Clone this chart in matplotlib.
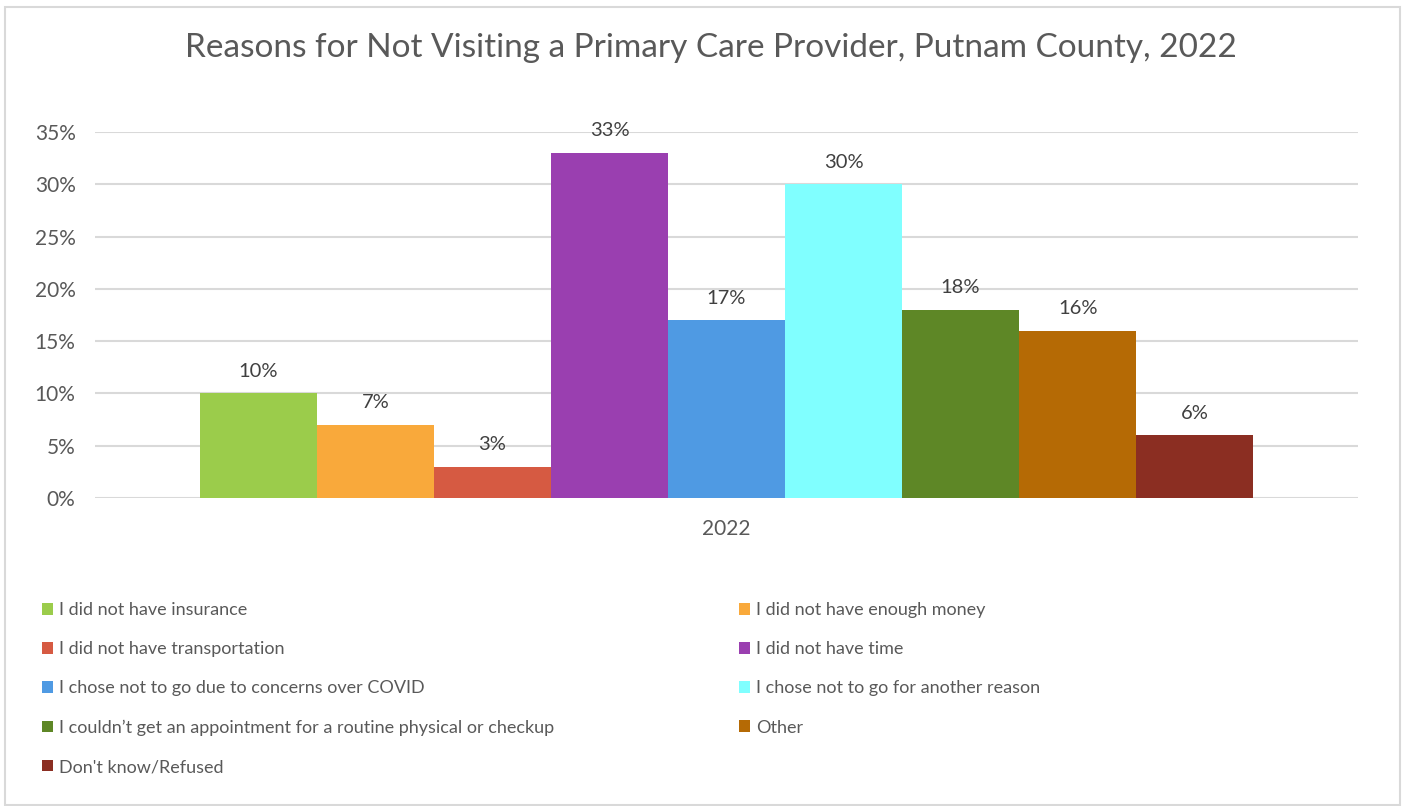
import numpy as np
import matplotlib.pyplot as plt
from matplotlib.patches import Rectangle
import matplotlib.ticker as mticker

plt.rcParams['font.family'] = ['Lato', 'DejaVu Sans']

reasons = [
    "I did not have insurance",
    "I did not have enough money",
    "I did not have transportation",
    "I did not have time",
    "I chose not to go due to concerns over COVID",
    "I chose not to go for another reason",
    "I couldn\u2019t get an appointment for a routine physical or checkup",
    "Other",
    "Don't know/Refused",
]
values = [10, 7, 3, 33, 17, 30, 18, 16, 6]
colors = ['#9BCC4B', '#F9A93B', '#D65A42', '#9A3FB0', '#4F9AE3',
          '#80FFFF', '#5E8726', '#B56A05', '#8B2E22']
year = "2022"

text_col = '#595959'
grid_col = '#D9D9D9'

fig = plt.figure(figsize=(14.06, 8.06), dpi=100)
ax = fig.add_axes([95 / 1406, 1 - 498 / 806, 1263 / 1406, 366 / 806])

n = len(values)
w = 0.834 / n
xs = (np.arange(n) - (n - 1) / 2) * w
bars = []
for x, v, c, lab in zip(xs, values, colors, reasons):
    b = ax.bar(x, v, width=w, color=c, label=lab, zorder=3)
    bars.append(b)
    ax.text(x, v + 1.3, f"{v}%", ha='center', va='bottom', fontsize=14.5, color='#404040')

ax.set_xlim(-0.5, 0.5)
ax.set_ylim(0, 35)
ax.set_yticks(range(0, 36, 5))
ax.yaxis.set_major_formatter(mticker.FuncFormatter(lambda v, p: f"{int(v)}%"))
ax.set_xticks([0])
ax.set_xticklabels([year])
ax.tick_params(axis='both', length=0, labelsize=15, labelcolor=text_col, pad=14)
ax.tick_params(axis='x', pad=15)
ax.grid(axis='y', color=grid_col, lw=1.5, zorder=0)
for s in ax.spines.values():
    s.set_visible(False)

fig.text(711 / 1406, 1 - 48 / 806, "Reasons for Not Visiting a Primary Care Provider, Putnam County, 2022",
         ha='center', va='center', fontsize=24, color=text_col)

# two legend columns, filled row by row like the original
left = [0, 2, 4, 6, 8]
right = [1, 3, 5, 7]
for idx, x0 in [(left, 26), (right, 723)]:
    fig.legend([bars[i] for i in idx], [reasons[i] for i in idx], loc='upper left',
               bbox_to_anchor=(x0 / 1406, 1 - 586 / 806),
               frameon=False, fontsize=13, labelcolor=text_col,
               handlelength=0.6, handleheight=0.6, handletextpad=0.35,
               labelspacing=1.28)

fig.patches.append(Rectangle((5 / 1406, 1 / 806), 1395 / 1406, 798 / 806, transform=fig.transFigure,
                             fill=False, edgecolor=grid_col, lw=1.5))

fig.savefig("out.png", dpi=100)
